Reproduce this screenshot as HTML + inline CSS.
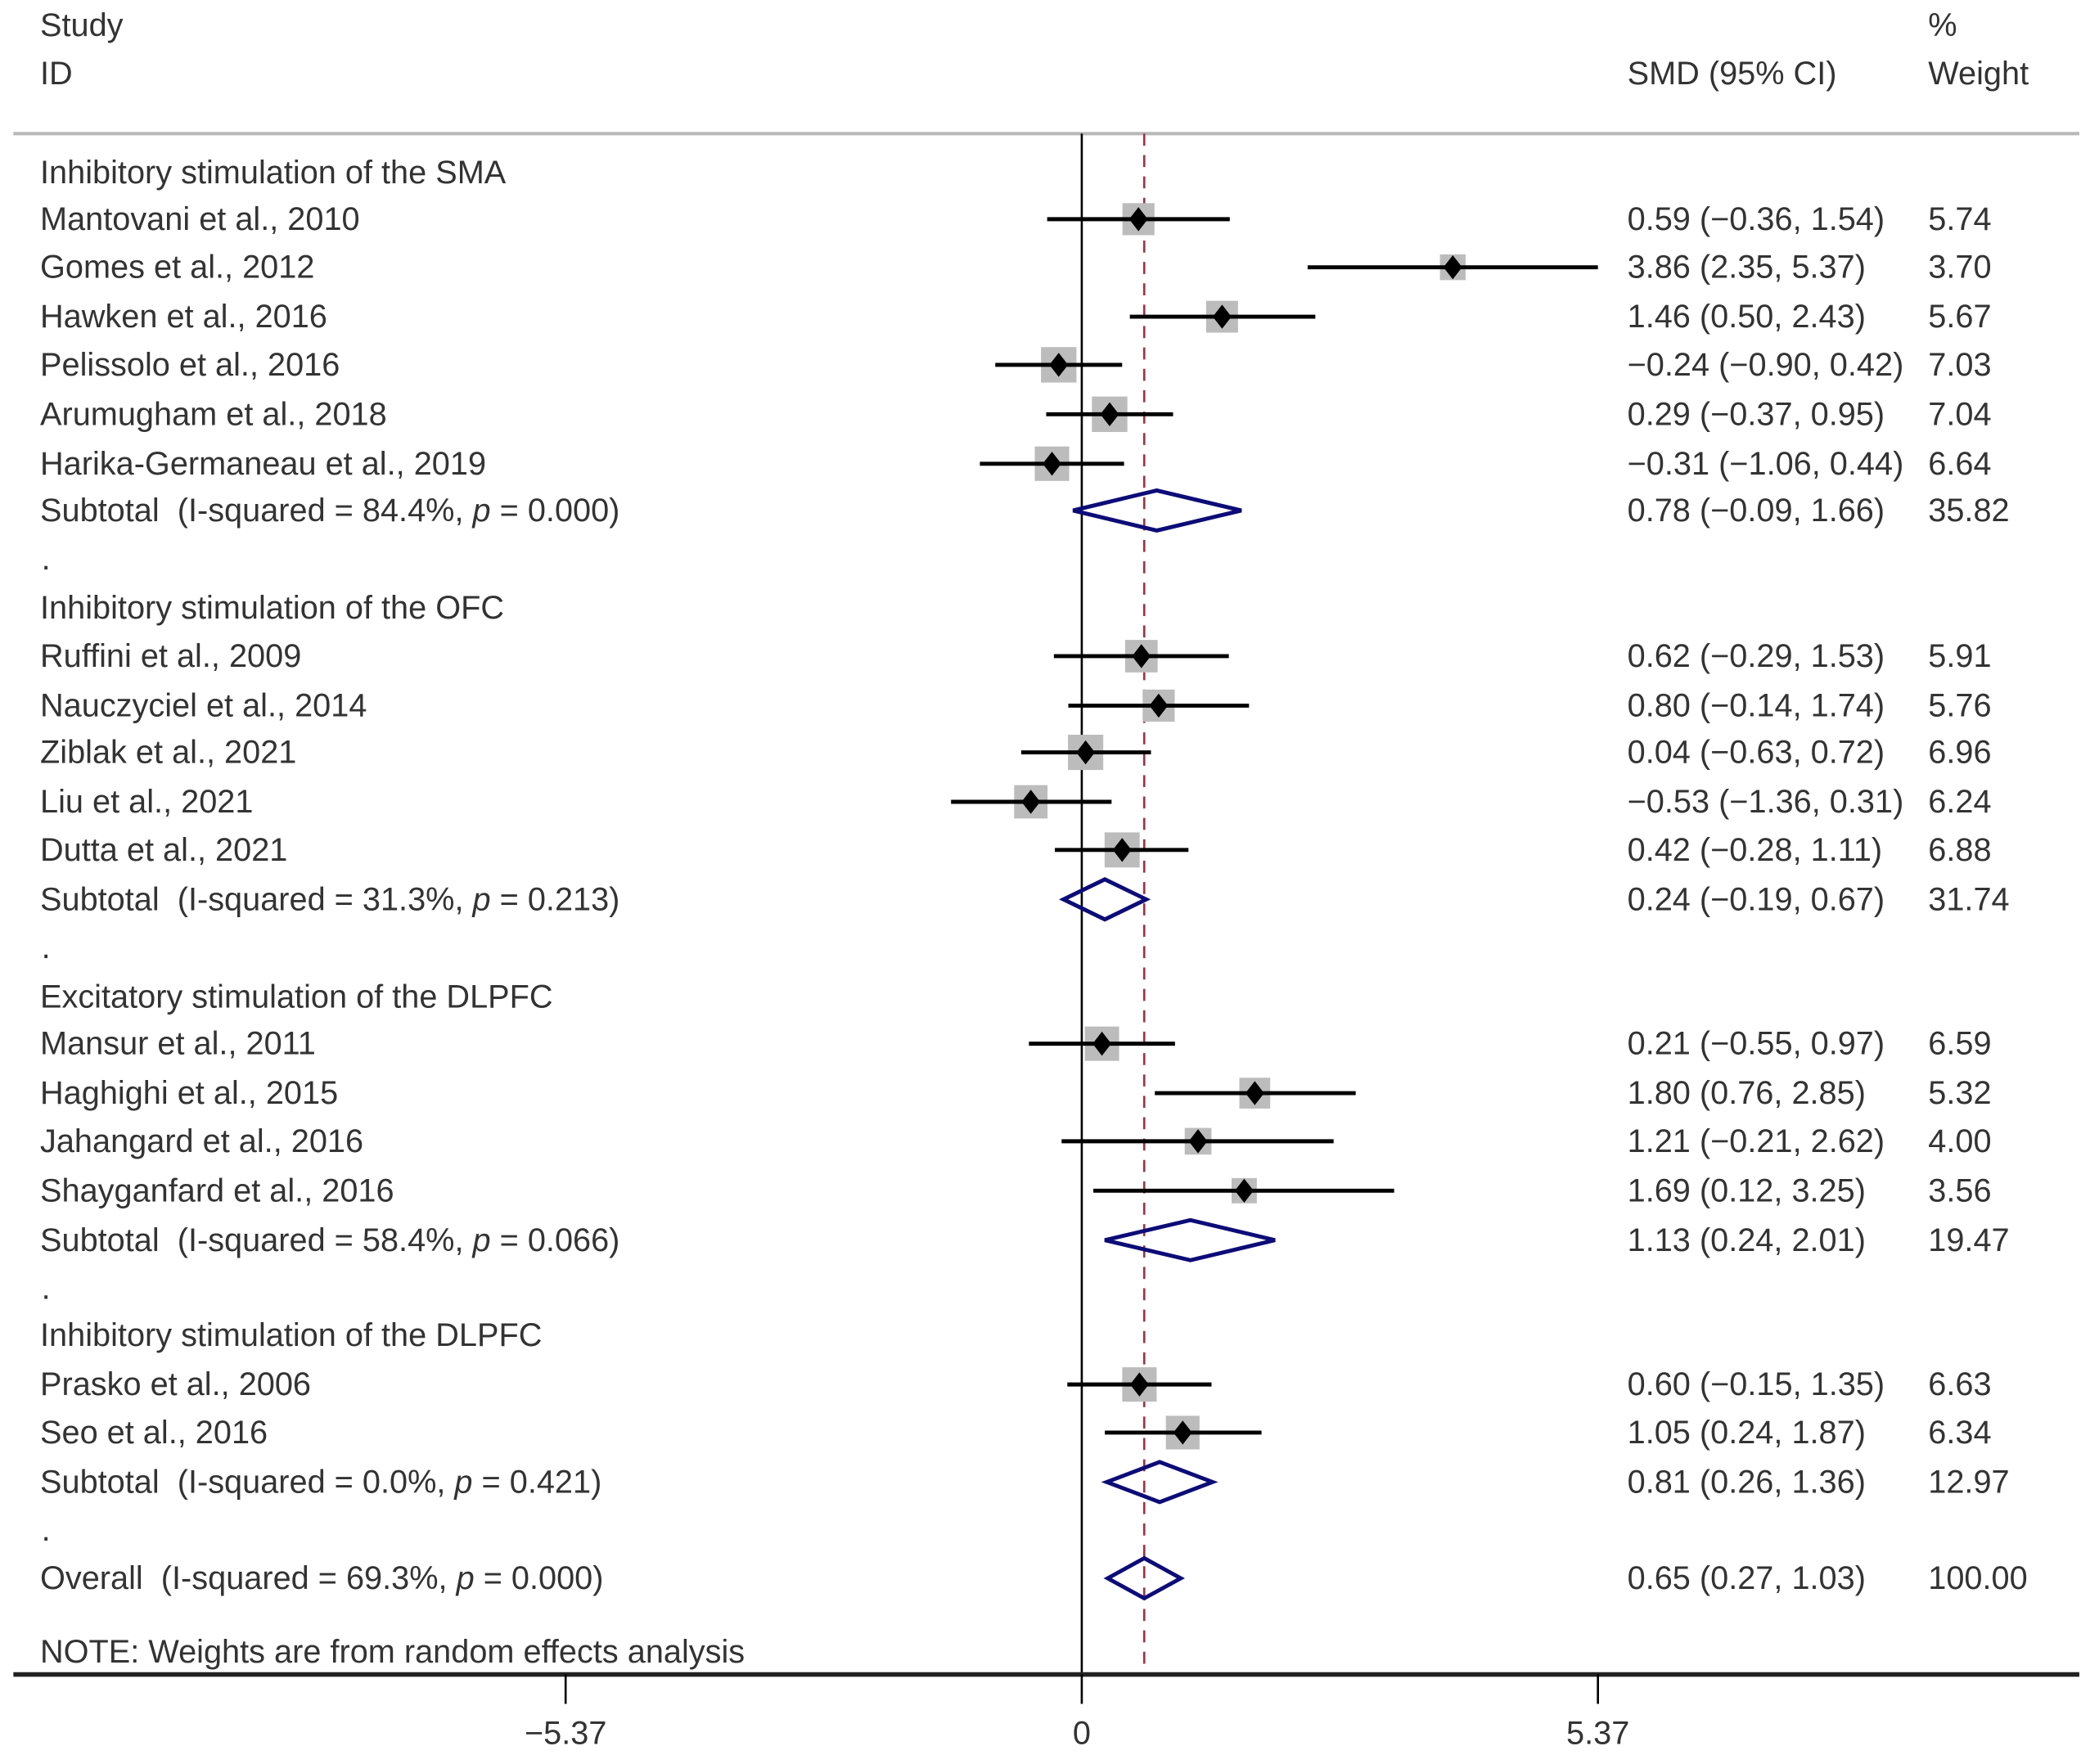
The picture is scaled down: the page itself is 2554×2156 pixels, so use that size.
<!DOCTYPE html>
<html><head><meta charset="utf-8"><style>
html,body{margin:0;padding:0;background:#fff;}
svg{display:block;}
text{font-family:"Liberation Sans",Arial,sans-serif;font-size:24.3px;fill:#333;white-space:pre;}
</style></head><body>
<svg id="chart" width="2554" height="2156" viewBox="0 0 1563 1320" preserveAspectRatio="none" xmlns="http://www.w3.org/2000/svg">
<g id="g"></g>
</svg>
<script>
// row kinds: h = group header, s = study, t = subtotal, o = overall, d = spacer dot
const rowKinds = ["h","s","s","s","s","s","s","t","d","h","s","s","s","s","s","t","d","h","s","s","s","s","t","d","h","s","s","t","d","o"];
const rowLabels = ["Inhibitory stimulation of the SMA","Mantovani et al., 2010","Gomes et al., 2012","Hawken et al., 2016","Pelissolo et al., 2016","Arumugham et al., 2018","Harika-Germaneau et al., 2019","Subtotal  (I-squared = 84.4%, p = 0.000)",".",
"Inhibitory stimulation of the OFC","Ruffini et al., 2009","Nauczyciel et al., 2014","Ziblak et al., 2021","Liu et al., 2021","Dutta et al., 2021","Subtotal  (I-squared = 31.3%, p = 0.213)",".",
"Excitatory stimulation of the DLPFC","Mansur et al., 2011","Haghighi et al., 2015","Jahangard et al., 2016","Shayganfard et al., 2016","Subtotal  (I-squared = 58.4%, p = 0.066)",".",
"Inhibitory stimulation of the DLPFC","Prasko et al., 2006","Seo et al., 2016","Subtotal  (I-squared = 0.0%, p = 0.421)",".",
"Overall  (I-squared = 69.3%, p = 0.000)"];
const rowY = [129,164,200,237,273,310,347,382,424,455,491,528,563,600,636,673,715,746,781,818,854,891,928,970,999,1036,1072,1109,1151,1181];
const est = [null,0.59,3.86,1.46,-0.24,0.29,-0.31,0.78,null,null,0.62,0.80,0.04,-0.53,0.42,0.24,null,null,0.21,1.80,1.21,1.69,1.13,null,null,0.60,1.05,0.81,null,0.65];
const lo  = [null,-0.36,2.35,0.50,-0.90,-0.37,-1.06,-0.09,null,null,-0.29,-0.14,-0.63,-1.36,-0.28,-0.19,null,null,-0.55,0.76,-0.21,0.12,0.24,null,null,-0.15,0.24,0.26,null,0.27];
const hi  = [null,1.54,5.37,2.43,0.42,0.95,0.44,1.66,null,null,1.53,1.74,0.72,0.31,1.11,0.67,null,null,0.97,2.85,2.62,3.25,2.01,null,null,1.35,1.87,1.36,null,1.03];
const weights = [null,5.74,3.70,5.67,7.03,7.04,6.64,35.82,null,null,5.91,5.76,6.96,6.24,6.88,31.74,null,null,6.59,5.32,4.00,3.56,19.47,null,null,6.63,6.34,12.97,null,100.00];
const overallEst = 0.65;
const tickValues = [-5.37,0,5.37];

const NS="http://www.w3.org/2000/svg";
const g=document.getElementById('g');
const X0=809, PXU=386/5.37;
function xs(v){return X0+v*PXU;}
function el(tag,attrs,parent){const e=document.createElementNS(NS,tag);for(const k in attrs)e.setAttribute(k,attrs[k]);(parent||g).appendChild(e);return e;}
function fmt(v){return (v<0?"\u2212":"")+Math.abs(v).toFixed(2);}
function txt(x,y,s,name,anchor){const t=el('text',{x:x,y:y+8,'text-anchor':anchor||'start'});t.textContent=s;


return t;}

// header
txt(30,19,"Study","study-header");
txt(30,55,"ID","id-header");
txt(1217,55,"SMD (95% CI)","smd-header");
txt(1442,19,"%","percent-header");
txt(1442,55,"Weight","weight-header");
let l=el('line',{x1:10,y1:100,x2:1555,y2:100,stroke:'#b8b8b8','stroke-width':2.5});



l=el('line',{x1:X0,y1:100,x2:X0,y2:1253,stroke:'#000','stroke-width':1.6});


l=el('line',{x1:xs(overallEst),y1:100,x2:xs(overallEst),y2:1253,stroke:'#a3303f','stroke-width':1.6,'stroke-dasharray':'9,7'});



for(let i=0;i<rowKinds.length;i++){
  const k=rowKinds[i], y=rowY[i];
  if(k==='d'){txt(31,y-6,".","spacer-dot");continue;}
  if(k==='h'){txt(30,y,rowLabels[i],"group-header");continue;}
  const lab=rowLabels[i];
  const t=el('text',{x:30,y:y+8});
  
  
  const idx=lab.indexOf(" p = ");
  if(idx>=0){
    const a=el('tspan',{},t);a.textContent=lab.slice(0,idx+1);
    const b=el('tspan',{'font-style':'italic'},t);b.textContent="p";
    const c=el('tspan',{},t);c.textContent=lab.slice(idx+2);
  } else t.textContent=lab;
  txt(1217,y,fmt(est[i])+" ("+fmt(lo[i])+", "+fmt(hi[i])+")","effect-ci-text");
  txt(1442,y,weights[i].toFixed(2),"weight-text");
  if(k==='s'){
    const s=10*Math.sqrt(weights[i]);
    let r=el('rect',{x:xs(est[i])-s/2,y:y-s/2,width:s,height:s,fill:'#bcbcbc'});
    
    
    let c=el('line',{x1:xs(lo[i]),y1:y,x2:xs(hi[i]),y2:y,stroke:'#000','stroke-width':3});
    
    
    const cx=xs(est[i]);
    let m=el('polygon',{points:`${cx},${y-9} ${cx+7},${y} ${cx},${y+9} ${cx-7},${y}`,fill:'#000'});
    
    
  } else {
    const h=15;
    let d=el('polygon',{points:`${xs(lo[i])},${y} ${xs(est[i])},${y-h} ${xs(hi[i])},${y} ${xs(est[i])},${y+h}`,fill:'none',stroke:'#0c0c78','stroke-width':3});
    
    
  }
}
txt(30,1236,"NOTE: Weights are from random effects analysis","note-text");

l=el('line',{x1:10,y1:1253,x2:1555,y2:1253,stroke:'#222','stroke-width':3.5});


for(const v of tickValues){
  let tk=el('line',{x1:xs(v),y1:1253,x2:xs(v),y2:1275,stroke:'#000','stroke-width':1.6});
  
  
  txt(xs(v),1297,v===0?"0":fmt(v),"x-tick-label","middle");
}
</script>
</body></html>
